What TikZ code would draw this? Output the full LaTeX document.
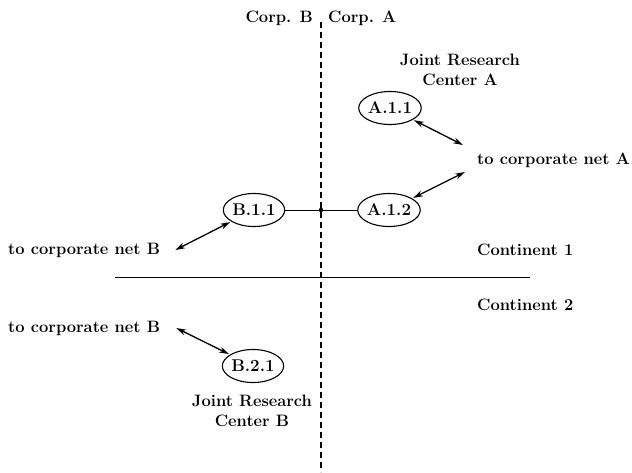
\documentclass[tikz,border=0pt]{standalone}
\usepackage{amsmath,amssymb}
\usepackage{tikz}
\usetikzlibrary{arrows.meta,calc,positioning,shapes.geometric}

\begin{document}
\begin{tikzpicture}[x=1pt,y=-1pt,
    lbl/.style={inner sep=0pt,font=\fontsize{16.5}{20}\selectfont\bfseries},
    site/.style={ellipse,draw,line width=1.1pt,inner sep=0pt,minimum width=57pt,
                 minimum height=33pt,font=\fontsize{17}{20}\selectfont\bfseries},
    link/.style={{Stealth[length=10pt,width=6pt]}-{Stealth[length=10pt,width=6pt]},
                 line width=1.3pt,shorten <=1pt},
    border/.style={line width=1.8pt,dash pattern=on 6pt off 4pt}]
%
  \useasboundingbox (0,0) rectangle (632,472) ;
%
  \coordinate (top) at (321,22) ;
  \coordinate (bot) at (321,472) ;
  \coordinate (cw) at (115,277) ;
  \coordinate (ce) at (530,277) ;
%
  \node[lbl,anchor=east] (corpB) at (313,18) {Corp. B} ;
  \node[lbl,anchor=west] (corpA) at (328,18) {Corp. A} ;
  \node[lbl,align=center] (jrcA) at (460,70) {Joint Research\\Center A} ;
  \node[lbl,align=center] (jrcB) at (252,411) {Joint Research\\Center B} ;
  \node[lbl,anchor=west] (netA) at (477,160) {to corporate net A} ;
  \node[lbl,anchor=west] (netB1) at (8,250) {to corporate net B} ;
  \node[lbl,anchor=west] (netB2) at (8,328) {to corporate net B} ;
  \node[lbl,anchor=west] (cont1) at (477,250) {Continent 1} ;
  \node[lbl,anchor=west] (cont2) at (477,305) {Continent 2} ;
%
  \node[site] (a11) at (390,108) {A.1.1} ;
  \node[site] (a12) at (389,210) {A.1.2} ;
  \node[site] (b11) at (254,210) {B.1.1} ;
  \node[site] (b21) at (253,366) {B.2.1} ;
%
  \coordinate (endA1) at ($(netA.west)+(-14,-15)$) ;
  \coordinate (endA2) at ($(netA.west)+(-12,12)$) ;
  \coordinate (endB1) at ($(netB1.east)+(15,0)$) ;
  \coordinate (endB2) at ($(netB2.east)+(16,0)$) ;
%
  \draw[border] (top) -- (bot) ;
  \draw[line width=1pt] (cw) -- (ce) ;
  \draw[line width=1pt] (b11) -- (a12) ;
  \fill (b11 -| top) circle (2.2pt) ;
%
  \draw[link] (a11) -- (endA1) ;
  \draw[link] (a12) -- (endA2) ;
  \draw[link] (b11) -- (endB1) ;
  \draw[link] (b21) -- (endB2) ;

\end{tikzpicture}
\end{document}
